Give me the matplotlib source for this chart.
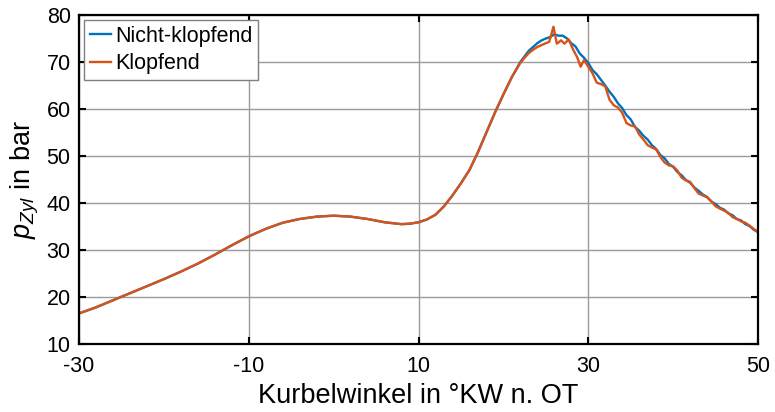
import matplotlib
matplotlib.use("Agg")
import matplotlib.pyplot as plt

plt.rcParams['font.family'] = ['Liberation Sans', 'DejaVu Sans']
plt.rcParams['mathtext.fontset'] = 'custom'
plt.rcParams['mathtext.rm'] = 'Liberation Sans'
plt.rcParams['mathtext.it'] = 'Liberation Sans:italic'
plt.rcParams['axes.unicode_minus'] = False

# shared compression part (both curves lie on top of each other)
x_comp = [-30, -28, -26, -24, -22, -20, -18, -16, -14, -12, -10, -8, -6, -4, -2,
          0, 2, 4, 6, 8, 9, 10, 11, 12, 13, 14, 15, 16, 17, 18, 19, 20, 21]
p_comp = [16.5, 17.8, 19.3, 20.8, 22.3, 23.8, 25.4, 27.1, 29.0, 31.0, 32.9, 34.5,
          35.8, 36.6, 37.1, 37.3, 37.1, 36.6, 35.9, 35.5, 35.6, 35.9, 36.5, 37.5,
          39.3, 41.6, 44.2, 47.0, 50.8, 55.0, 59.2, 63.1, 66.8]

# combustion part, non-knocking
x_nk = [22, 22.5, 23, 23.5, 24, 24.5, 25, 25.5, 26, 26.5, 27, 27.5, 28, 28.5, 29,
        29.5, 30, 30.5, 31, 31.5, 32, 32.5, 33, 33.5, 34, 34.5, 35, 35.5, 36, 36.5,
        37, 37.5, 38, 38.5, 39, 39.5, 40, 40.5, 41, 41.5, 42, 42.5, 43, 43.5, 44,
        44.5, 45, 45.5, 46, 46.5, 47, 47.5, 48, 48.5, 49, 49.5, 50]
p_nk = [70.0, 71.2, 72.4, 73.2, 74.0, 74.6, 75.0, 75.3, 75.9, 75.6, 75.6, 75.0,
        74.0, 73.3, 71.8, 70.9, 69.8, 68.3, 67.4, 66.2, 65.0, 63.7, 62.6, 61.2,
        60.2, 58.7, 57.8, 56.2, 55.4, 54.3, 53.5, 52.3, 51.5, 50.2, 49.5, 48.3,
        47.7, 46.6, 45.9, 44.9, 44.3, 43.3, 42.6, 41.8, 41.3, 40.3, 39.8, 39.0,
        38.6, 37.8, 37.4, 36.6, 36.3, 35.5, 35.1, 34.3, 33.8]

# combustion part, knocking
x_k = [22, 22.5, 23, 23.5, 24, 24.5, 25, 25.4, 25.9, 26.3, 26.8, 27.2, 27.7, 28.2,
       28.7, 29.1, 29.5, 30, 30.5, 31, 31.5, 32, 32.5, 33, 33.5, 34, 34.5, 35,
       35.5, 36, 36.5, 37, 37.5, 38, 38.5, 39, 39.5, 40, 40.5, 41, 41.5, 42, 42.5,
       43, 43.5, 44, 44.5, 45, 45.5, 46, 46.5, 47, 47.5, 48, 48.5, 49, 49.5, 50]
p_k = [69.8, 70.9, 71.9, 72.6, 73.2, 73.6, 74.0, 74.3, 77.5, 73.9, 74.6, 73.9,
       74.8, 72.7, 71.0, 69.0, 70.4, 69.0, 67.6, 65.6, 65.3, 64.8, 62.0, 60.8,
       60.3, 59.2, 57.0, 56.5, 56.3, 54.6, 53.5, 52.3, 51.8, 51.4, 49.8, 48.6,
       48.0, 47.8, 46.9, 45.4, 44.8, 44.5, 43.2, 42.0, 41.6, 41.2, 40.4, 39.3,
       38.8, 38.4, 37.9, 37.0, 36.6, 36.1, 35.8, 35.2, 34.5, 33.8]

xticks = [-30, -10, 10, 30, 50]
yticks = [10, 20, 30, 40, 50, 60, 70, 80]

fig = plt.figure(figsize=(7.75, 4.12), dpi=100)
ax = fig.add_axes([79/775, 1 - 344/412, (758 - 79)/775, (344 - 15)/412])

ax.plot(x_comp + x_nk, p_comp + p_nk, color='#0072BD', lw=1.7, label='Nicht-klopfend')
ax.plot(x_comp + x_k, p_comp + p_k, color='#D95319', lw=1.7, label='Klopfend')

ax.set_xlim(-30, 50)
ax.set_ylim(10, 80)
ax.set_xticks(xticks)
ax.set_yticks(yticks)
ax.grid(True, color='#9a9a9a', lw=1.0)
ax.set_axisbelow(True)
ax.tick_params(direction='in', top=True, right=True, length=5, width=1.5,
               labelsize=15.5)
ax.tick_params(axis='x', pad=9)
ax.tick_params(axis='y', pad=6)
for s in ax.spines.values():
    s.set_linewidth(1.6)

ax.set_xlabel('Kurbelwinkel in °KW n. OT', fontsize=19.5, labelpad=4)
ax.set_ylabel(r'$p_{Zyl}$ in bar', fontsize=19.5, labelpad=4)

leg = ax.legend(loc='upper left', fontsize=15.5, handlelength=1.0,
                handletextpad=0.2, borderpad=0.25, labelspacing=0.3,
                borderaxespad=0.25, fancybox=False, framealpha=1)
leg.get_frame().set_edgecolor('#7f7f7f')
leg.get_frame().set_linewidth(1.0)

fig.savefig('out.png', dpi=100)
